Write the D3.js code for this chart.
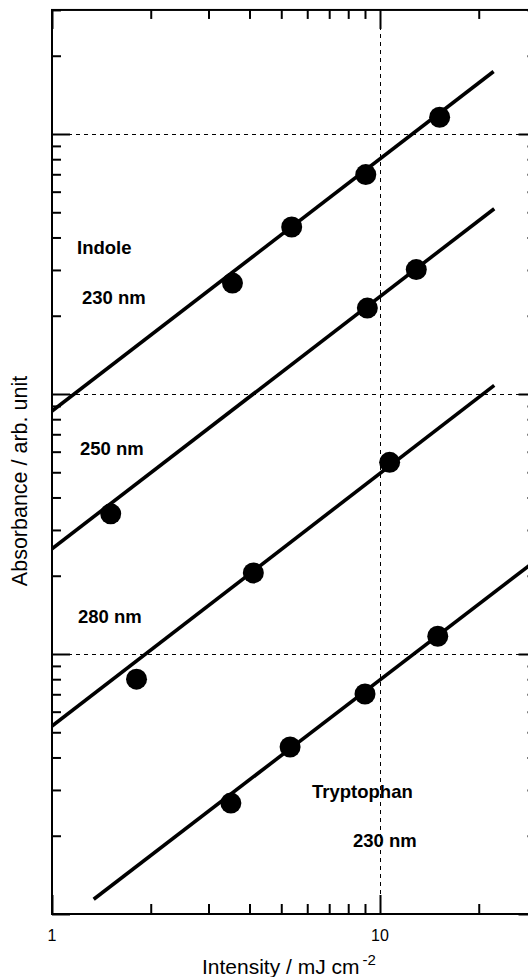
<!DOCTYPE html>
<html><head><meta charset="utf-8">
<script src="https://cdn.jsdelivr.net/npm/d3@7"></script>
<style>body{margin:0;background:#fff} svg{display:block;font-family:"Liberation Sans",Arial,sans-serif}</style>
</head><body><svg id="c" width="528" height="977"></svg>
<script>
// ---- data ----
const seriesNames = ["Indole 230 nm", "Indole 250 nm", "Indole 280 nm", "Tryptophan 230 nm"];
const indole230X = [3.55, 5.38, 9.05, 15.2];
const indole230Y = [2.67, 4.39, 6.98, 11.6];
const indole250X = [1.51, 9.15, 12.9];
const indole250Y = [0.346, 2.14, 3.01];
const indole280X = [1.81, 4.11, 10.7];
const indole280Y = [0.080, 0.205, 0.546];
const trp230X = [3.51, 5.32, 9.00, 15.0];
const trp230Y = [0.0267, 0.0439, 0.0702, 0.117];
// fitted lines (end points)
const fitIndole230X = [1, 22.2], fitIndole230Y = [0.86, 17.4];
const fitIndole250X = [1, 22.3], fitIndole250Y = [0.254, 5.16];
const fitIndole280X = [1, 22.3], fitIndole280Y = [0.0528, 1.08];
const fitTrp230X = [1.34, 30], fitTrp230Y = [0.0114, 0.23];
// axes
const xDomain = [1, 30];
const yDomain = [0.01, 30];
const xMajorTicks = [1, 10];
const xTickLabels = ["1", "10"];
const yMajorTicks = [0.01, 0.1, 1, 10];
const labelTexts = ["Indole", "230 nm", "250 nm", "280 nm", "Tryptophan", "230 nm"];

// ---- layout ----
const svg = d3.select("#c");
const L = 52, R = 52 + Math.log10(30) * 328, T = 914 - Math.log10(3000) * 260, B = 914;
const x = d3.scaleLog().domain(xDomain).range([L, R]);
const y = d3.scaleLog().domain(yDomain).range([B, T]);

const zip = (a, b) => a.map((v, i) => [v, b[i]]);
const points = [zip(indole230X, indole230Y), zip(indole250X, indole250Y), zip(indole280X, indole280Y), zip(trp230X, trp230Y)];
const fits = [zip(fitIndole230X, fitIndole230Y), zip(fitIndole250X, fitIndole250Y), zip(fitIndole280X, fitIndole280Y), zip(fitTrp230X, fitTrp230Y)];

svg.append("clipPath").attr("id", "clip").append("rect")
  .attr("x", L).attr("y", T).attr("width", R - L).attr("height", B - T);

// grid (dashed) at majors
const grid = svg.append("g").attr("stroke", "#000").attr("stroke-width", 1).attr("stroke-dasharray", "4,4")
  .attr("shape-rendering", "crispEdges");
grid.selectAll("line.h").data(yMajorTicks.filter(v => v > yDomain[0])).join("line")
  .attr("x1", L).attr("x2", R).attr("y1", d => Math.round(y(d)) + 0.5).attr("y2", d => Math.round(y(d)) + 0.5);
grid.selectAll("line.v").data(xMajorTicks.filter(v => v > xDomain[0])).join("line").attr("class", "v")
  .attr("y1", T).attr("y2", B).attr("x1", d => Math.round(x(d)) + 0.5).attr("x2", d => Math.round(x(d)) + 0.5);

// ticks
const xMinor = x.ticks().filter(v => !xMajorTicks.includes(v));
const yMinor = y.ticks().filter(v => !yMajorTicks.some(m => Math.abs(m - v) < 1e-9));
function styleAxis(g) { g.select(".domain").remove(); g.selectAll("line").attr("stroke", "#000").attr("stroke-width", 2); g.selectAll("text").remove(); }
svg.append("g").attr("transform", `translate(0,${B})`).call(d3.axisTop(x).tickValues(xMinor).tickSize(10).tickFormat("")).call(styleAxis);
svg.append("g").attr("transform", `translate(0,${B})`).call(d3.axisTop(x).tickValues(xMajorTicks).tickSize(19).tickFormat("")).call(styleAxis);
svg.append("g").attr("transform", `translate(0,${T})`).call(d3.axisBottom(x).tickValues(xMinor).tickSize(9).tickFormat("")).call(styleAxis);
svg.append("g").attr("transform", `translate(0,${T})`).call(d3.axisBottom(x).tickValues(xMajorTicks).tickSize(19).tickFormat("")).call(styleAxis);
svg.append("g").attr("transform", `translate(${L},0)`).call(d3.axisRight(y).tickValues(yMinor).tickSize(9).tickFormat("")).call(styleAxis);
svg.append("g").attr("transform", `translate(${L},0)`).call(d3.axisRight(y).tickValues(yMajorTicks).tickSize(18).tickFormat("")).call(styleAxis);
svg.append("g").attr("transform", `translate(${R},0)`).call(d3.axisLeft(y).tickValues(yMinor).tickSize(9).tickFormat("")).call(styleAxis);
svg.append("g").attr("transform", `translate(${R},0)`).call(d3.axisLeft(y).tickValues(yMajorTicks).tickSize(18).tickFormat("")).call(styleAxis);

// frame
svg.append("rect").attr("x", L).attr("y", T).attr("width", R - L).attr("height", B - T)
  .attr("fill", "none").attr("stroke", "#000").attr("stroke-width", 2);

// fitted lines
const line = d3.line().x(d => x(d[0])).y(d => y(d[1]));
svg.append("g").attr("clip-path", "url(#clip)").selectAll("path").data(fits).join("path")
  .attr("d", line).attr("fill", "none").attr("stroke", "#000").attr("stroke-width", 3.6);

// markers
svg.append("g").selectAll("g").data(points).join("g").selectAll("circle").data(d => d).join("circle")
  .attr("cx", d => x(d[0])).attr("cy", d => y(d[1])).attr("r", 10.5).attr("fill", "#000");

// x tick labels
svg.append("g").selectAll("text").data(xMajorTicks).join("text")
  .attr("x", d => x(d)).attr("y", 941).attr("text-anchor", "middle")
  .attr("font-size", 16).text((d, i) => xTickLabels[i]);

// series labels
const labelPos = [[77, 254], [82, 304], [80, 455], [78, 623], [312, 798], [353, 847]];
svg.append("g").selectAll("text").data(labelTexts).join("text")
  .attr("x", (d, i) => labelPos[i][0]).attr("y", (d, i) => labelPos[i][1])
  .attr("font-size", 18.5).attr("font-weight", "bold").text(d => d);

// axis titles
const xt = svg.append("text").attr("x", 202).attr("y", 974).attr("font-size", 21);
xt.append("tspan").text("Intensity / mJ cm");
xt.append("tspan").attr("dx", 3).attr("dy", -9).attr("font-size", 15).text("-2");
svg.append("text").attr("transform", "translate(27,481) rotate(-90)").attr("text-anchor", "middle")
  .attr("font-size", 21.5).text("Absorbance / arb. unit");
</script></body></html>
